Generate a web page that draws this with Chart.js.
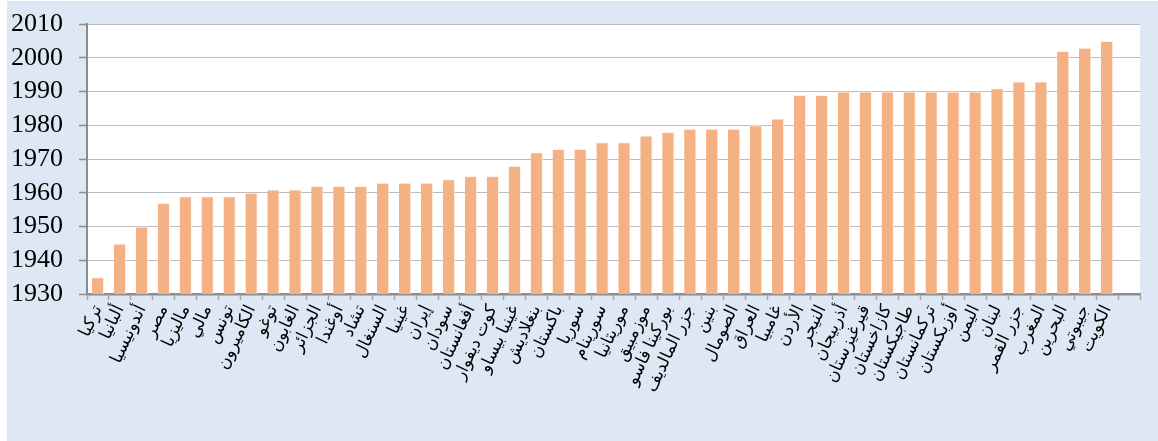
<!DOCTYPE html>
<html lang="ar">
<head>
<meta charset="utf-8">
<script src="https://cdn.jsdelivr.net/npm/chart.js@4"></script>
<style>
  html, body { margin: 0; padding: 0; background: #fff; }
  #wrap {
    position: absolute;
    left: 7px; top: 1px;
    width: 1151px; height: 440px;
    background: #dde8f4;
  }
  canvas { display: block; }
</style>
</head>
<body>
<div id="wrap"><canvas id="chart"></canvas></div>
<script>
// Countries (x-axis categories)
const countries = [
  'تركيا', 'ألبانيا', 'أندونيسيا', 'مصر', 'ماليزيا', 'مالي', 'تونس', 'الكاميرون',
  'توغو', 'الغابون', 'الجزائر', 'أوغندا', 'تشاد', 'السنغال', 'غينيا', 'إيران',
  'سودان', 'أفغانستان', 'كوت ديفوار', 'غينيا بيساو', 'بنغلاديش', 'باكستان',
  'سوريا', 'سورينام', 'موريتانيا', 'موزمبيق', 'بوركينا فاسو', 'جزر المالديف',
  'بنين', 'الصومال', 'العراق', 'غامبيا', 'الأردن', 'النيجر', 'أذربيجان', 'قيرغيزستان',
  'كازاخستان', 'طاجيكستان', 'تركمانستان', 'أوزبكستان', 'اليمن', 'لبنان', 'جزر القمر',
  'المغرب', 'البحرين', 'جيبوتي', 'الكويت', ''
];

// Year values
const years = [
  1935, 1945, 1950, 1957, 1959, 1959, 1959, 1960,
  1961, 1961, 1962, 1962, 1962, 1963, 1963, 1963,
  1964, 1965, 1965, 1968, 1972, 1973, 1973,
  1975, 1975, 1977, 1978, 1979,
  1979, 1979, 1980, 1982, 1989, 1989, 1990, 1990,
  1990, 1990, 1990, 1990, 1990, 1991, 1993,
  1993, 2002, 2003, 2005, null
];

// y-axis range
const yMin = 1930;
const yMax = 2010;
const yStep = 10;

// white plot background behind the bars
const plotBackground = {
  id: 'plotBackground',
  beforeDraw(chart) {
    const { ctx, chartArea: a } = chart;
    ctx.save();
    ctx.fillStyle = '#ffffff';
    ctx.fillRect(a.left, a.top, a.right - a.left, a.bottom - a.top);
    ctx.restore();
  }
};

const wrap = document.getElementById('wrap');
const canvas = document.getElementById('chart');
canvas.width = wrap.clientWidth;
canvas.height = wrap.clientHeight;

new Chart(canvas.getContext('2d'), {
  type: 'bar',
  data: {
    labels: countries,
    datasets: [{
      data: years,
      backgroundColor: '#f4b183',
      borderColor: 'rgba(255, 240, 230, 0.9)',
      borderWidth: { top: 1, right: 1, left: 0, bottom: 0 },
      barPercentage: 0.56,
      categoryPercentage: 1
    }]
  },
  options: {
    responsive: false,
    animation: false,
    layout: { padding: { left: 0, top: 23, right: 18, bottom: 0 } },
    plugins: {
      legend: { display: false },
      tooltip: { enabled: false }
    },
    scales: {
      x: {
        offset: true,
        afterFit: s => {
          s.height = 147;
          s.paddingLeft = 0;
          s.paddingRight = 0;
        },
        border: { color: '#8c8c8c', width: 2.5 },
        grid: {
          offset: true,
          drawOnChartArea: false,
          tickLength: 6,
          tickColor: '#a6a6a6',
          tickWidth: 1.5
        },
        ticks: {
          autoSkip: false,
          minRotation: 65,
          maxRotation: 65,
          padding: 2,
          color: '#000',
          font: { family: "'Liberation Serif', 'DejaVu Sans', serif", size: 17 }
        }
      },
      y: {
        min: yMin,
        max: yMax,
        afterFit: s => {
          s.width = 80;
          s.paddingTop = 0;
          s.paddingBottom = 0;
        },
        border: { color: '#8c8c8c', width: 2 },
        grid: {
          color: '#bdbdbd',
          lineWidth: 1,
          borderDash: [1, 2],
          tickLength: 8,
          tickColor: '#8c8c8c',
          tickWidth: 1.5,
          tickBorderDash: []
        },
        ticks: {
          stepSize: yStep,
          autoSkip: false,
          padding: 16,
          color: '#000',
          callback: v => String(v),
          font: { family: "'Liberation Serif', 'Times New Roman', serif", size: 26 }
        }
      }
    }
  },
  plugins: [plotBackground]
});
</script>
</body>
</html>
